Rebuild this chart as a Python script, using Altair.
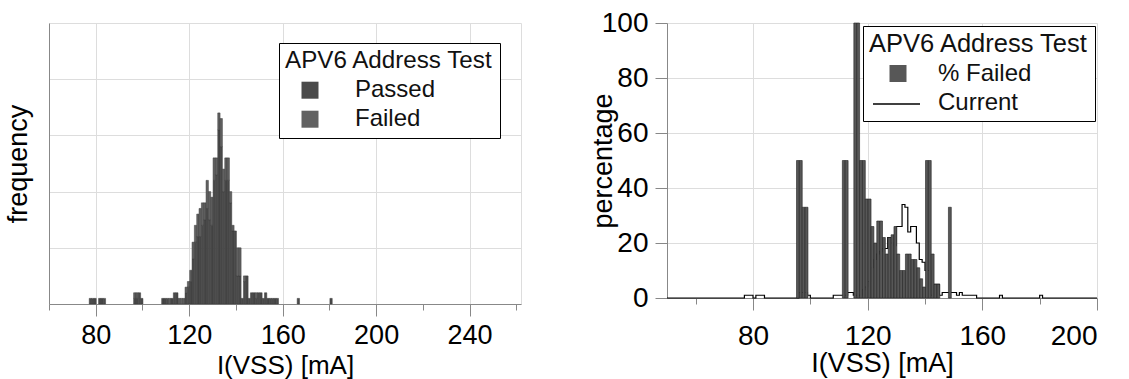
import altair as alt
import pandas as pd

FONT = "Liberation Sans"

# ---------------- left panel: frequency histogram (1 mA bins, bin start in mA)
left_bins = [77, 78, 79, 81, 82, 83, 96, 97, 98, 99,
             108, 109, 110, 111, 112, 113, 114, 115, 116, 117,
             118, 119, 120, 121, 122, 123, 124, 125, 126, 127, 128, 129, 130, 131,
             132, 133, 134, 135, 136, 137, 138, 139, 140, 141, 142, 143, 144, 145,
             146, 147, 148, 149, 150, 151, 152, 153, 154, 155, 156, 157, 166, 180]
passed = [1, 1, 1, 1, 1, 1, 1, 1, 2, 1,
          1, 1, 1, 0, 1, 2, 2, 0, 0, 0,
          2, 3, 4, 8, 11, 12, 12, 14, 15, 17, 15, 14, 22, 23,
          31, 28, 20, 22, 22, 18, 13, 13, 5, 5, 1, 4, 5, 1,
          2, 2, 1, 2, 2, 1, 2, 1, 1, 1, 1, 1, 1, 1]
failed = [0, 0, 0, 0, 0, 0, 1, 1, 0, 0,
          0, 0, 0, 1, 0, 0, 0, 1, 1, 1,
          1, 1, 2, 3, 3, 4, 5, 4, 3, 5, 5, 5, 4, 3,
          3, 5, 4, 4, 4, 2, 1, 0, 5, 5, 0, 1, 0, 0,
          0, 0, 1, 0, 0, 0, 0, 0, 0, 0, 0, 0, 0, 0]
left_series = ["Passed", "Failed"]

# ---------------- right panel: % failed per bin and current distribution
pct_bins = [95, 96, 97, 98, 111, 112,
            115, 116, 117, 118, 119, 120, 121, 122, 123, 124, 125, 126, 127, 128,
            129, 130, 131, 132, 133, 134, 135, 136, 137, 138, 139, 140, 141, 142,
            143, 144, 148]
pct_failed = [50, 50, 33, 33, 50, 50,
              100, 100, 50, 50, 36, 36, 26, 20, 28, 28, 22, 16, 22, 23,
              26, 16, 10, 10, 16, 16, 14, 14, 11, 7, 4, 50, 50, 16,
              5, 5, 33]
current_bins = left_bins
current_vals = [1, 1, 1, 1, 1, 1, 2, 2, 2, 1,
                1, 1, 1, 1, 1, 2, 2, 1, 1, 1,
                3, 4, 6, 11, 14, 16, 17, 18, 18, 22, 20, 19, 26, 26,
                34, 33, 24, 26, 26, 20, 14, 13, 10, 10, 1, 5, 5, 1,
                2, 2, 2, 2, 2, 1, 2, 1, 1, 1, 1, 1, 1, 1]
right_series = ["% Failed", "Current"]
legend_title = "APV6 Address Test"

# ---------------- tables
rows = []
for b, p, f in zip(left_bins, passed, failed):
    if p > 0:
        rows.append({"start": b, "series": "Passed", "n": p, "ord": 0})
    if f > 0:
        rows.append({"start": b, "series": "Failed", "n": f, "ord": 1})
left_df = pd.DataFrame(rows)

pct_df = pd.DataFrame({"start": pct_bins, "pct": pct_failed, "series": "% Failed"})

cur_map = dict(zip(current_bins, current_vals))
cur_df = pd.DataFrame({"start": list(range(50, 201))})
cur_df["v"] = [cur_map.get(b, 0) for b in cur_df["start"]]
cur_df["curve"] = "Current"

major40 = "datum.value % 40 == 0"

# ---------------- left chart
left = alt.Chart(left_df).transform_calculate(end="datum.start + 1").mark_bar(
    stroke="#3a3a3a", strokeWidth=0.5, binSpacing=0
).encode(
    x=alt.X("start:Q", bin="binned",
            scale=alt.Scale(domain=[60, 262], nice=False, zero=False),
            axis=alt.Axis(values=list(range(60, 261, 20)),
                          labelExpr=f"{major40} ? datum.label : ''",
                          tickSize={"condition": {"test": major40, "value": 12}, "value": 6},
                          gridOpacity={"condition": {"test": major40, "value": 1}, "value": 0},
                          grid=True, labelFontSize=27, labelPadding=6,
                          title="I(VSS) [mA]", titleFontSize=26, titlePadding=4,
                          titleFontWeight="normal")),
    x2="end:Q",
    y=alt.Y("n:Q", stack="zero",
            scale=alt.Scale(domain=[0, 50], nice=False),
            axis=alt.Axis(values=[0, 10, 20, 30, 40, 50], labels=False, ticks=False,
                          grid=True,
                          gridOpacity={"condition": {"test": "datum.value > 0 && datum.value < 50", "value": 1}, "value": 0},
                          title="frequency", titleFontSize=27, titlePadding=17,
                          titleFontWeight="normal")),
    fill=alt.Fill("series:N",
                  scale=alt.Scale(domain=left_series, range=["#4a4a4a", "#616161"]),
                  legend=alt.Legend(orient="none", legendX=230, legendY=20, direction="vertical",
                                    title=legend_title, titleFontSize=24.2, titleFont=FONT,
                                    titleFontWeight="normal", titleColor="#111", titlePadding=5,
                                    titleLimit=400, labelLimit=300,
                                    labelFontSize=24, labelFont=FONT, labelColor="#111",
                                    symbolType="square", symbolSize=289, symbolStrokeWidth=0,
                                    symbolOffset=13, labelOffset=33, rowPadding=5, padding=6,
                                    fillColor="white", strokeColor="black")),
    order=alt.Order("ord:Q"),
).properties(width=472, height=281)

# ---------------- right chart
xr = alt.X("start:Q",
           scale=alt.Scale(domain=[50, 200], nice=False, zero=False),
           axis=alt.Axis(values=list(range(60, 201, 20)),
                         labelExpr=f"{major40} ? datum.label : ''",
                         tickSize={"condition": {"test": major40, "value": 12}, "value": 6},
                         gridOpacity={"condition": {"test": major40 + " && datum.value < 200", "value": 1}, "value": 0},
                         grid=True, labelFontSize=28, labelPadding=12,
                         title="I(VSS) [mA]", titleFontSize=27, titlePadding=0,
                         titleFontWeight="normal"))
yr_axis = alt.Axis(values=list(range(0, 101, 10)),
                   labelExpr="datum.value % 20 == 0 ? datum.label : ''",
                   tickSize={"condition": {"test": "datum.value % 20 == 0", "value": 12}, "value": 6},
                   gridOpacity={"condition": {"test": "datum.value % 20 == 0 && datum.value > 0 && datum.value < 100", "value": 1}, "value": 0},
                   grid=True, labelFontSize=28, labelPadding=7,
                   title="percentage", titleFontSize=27, titlePadding=-16,
                   titleFontWeight="normal")

curve = alt.Chart(cur_df).mark_line(interpolate="step-after", strokeWidth=1.2).encode(
    x=xr,
    y=alt.Y("v:Q", scale=alt.Scale(domain=[0, 100], nice=False), axis=yr_axis),
    stroke=alt.Stroke("curve:N",
                      scale=alt.Scale(domain=["Current"], range=["black"]),
                      legend=alt.Legend(orient="none", legendX=205, legendY=56.5, title=None,
                                        padding=0, symbolType="stroke", symbolSize=2209,
                                        symbolStrokeWidth=1.5, symbolOffset=0, zindex=3,
                                        labelExpr="''", labelFontSize=24)),
)

bars = alt.Chart(pct_df).transform_calculate(end="datum.start + 1").mark_bar(
    stroke="#222", strokeWidth=0.6, binSpacing=0
).encode(
    x=alt.X("start:Q", bin="binned"),
    x2="end:Q",
    y=alt.Y("pct:Q"),
    fill=alt.Fill("series:N",
                  scale=alt.Scale(domain=right_series, range=["#575757", "#ffffff"]),
                  legend=alt.Legend(orient="none", legendX=196, legendY=3, direction="vertical",
                                    title=legend_title, titleFontSize=25.5, titleFont=FONT,
                                    titleFontWeight="normal", titleColor="#111", titlePadding=4,
                                    titleLimit=400, labelLimit=300, zindex=1,
                                    labelFontSize=24, labelFont=FONT, labelColor="#111",
                                    symbolType="square", symbolSize=289, symbolStrokeWidth=0,
                                    symbolOffset=17, labelOffset=28, rowPadding=5, padding=6,
                                    fillColor="white", strokeColor="black")),
)

right = alt.layer(curve, bars).properties(width=430, height=275)

chart = alt.hconcat(left, right, spacing=146, bounds="flush").resolve_scale(
    fill="independent", stroke="independent"
).resolve_legend(fill="independent", stroke="independent").properties(
    padding={"left": 3, "top": 8, "right": 0, "bottom": 0}
).configure_axis(
    domainColor="black", domainWidth=1.5, tickColor="black", tickWidth=1.3,
    gridColor="#8a8a8a", gridDash=[1, 4], gridWidth=1,
    labelFont=FONT, titleFont=FONT, labelColor="#111", titleColor="#111",
    titleFontWeight="normal"
).configure_view(stroke="black", strokeWidth=1.5).configure(background="white")

chart.save("out.html", embed_options={"renderer": "svg", "actions": False})
